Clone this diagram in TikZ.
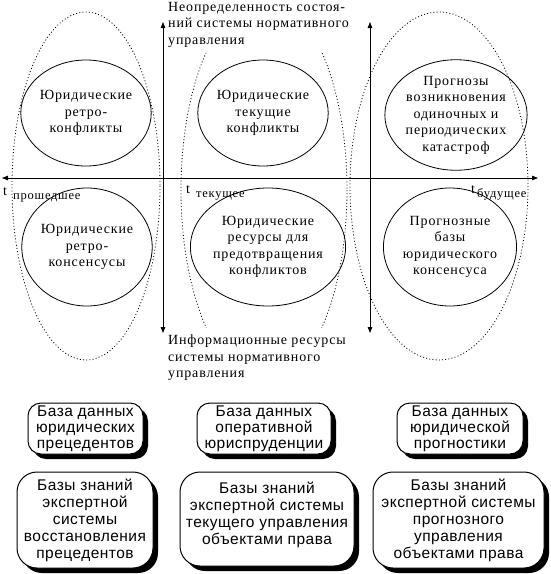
\documentclass[tikz,border=0pt]{standalone}
\usepackage{fontspec}
\setmainfont{Liberation Serif}[LetterSpace=6]
\newfontfamily\boxfont{Liberation Sans}[LetterSpace=3]
\usetikzlibrary{arrows.meta,shapes.geometric}
\tikzset{
  axis/.style={line width=0.8pt,{Triangle[length=6pt,width=4.5pt]}-{Triangle[length=6pt,width=4.5pt]}},
  zone/.style={line width=0.8pt,dash pattern=on 1pt off 2.2pt},
  circ/.style={ellipse,draw,line width=0.8pt,inner sep=0pt,align=center,font=\fontsize{14}{16.5}\selectfont},
  lbl/.style={inner sep=0pt,align=left,font=\fontsize{14}{16.5}\selectfont},
  tlab/.style={inner sep=0pt,font=\fontsize{14}{16}\selectfont},
  tword/.style={inner sep=0pt,font=\fontsize{12.5}{14}\selectfont},
  dbox/.style={draw,line width=1pt,fill=white,align=center,inner sep=0pt,
    font=\boxfont\fontsize{15.5}{16.2}\selectfont},
  bigbox/.style={dbox,rounded corners=20pt,font=\boxfont\fontsize{15.5}{17}\selectfont},
  smallbox/.style={dbox,rounded corners=13pt},
  shadowfill/.style={fill=black},
}
\begin{document}
\begin{tikzpicture}[x=1pt,y=-1pt]
\useasboundingbox (0,0) rectangle (551,574);
% zones
\draw[zone] (86,186) ellipse [x radius=74, y radius=174];
\draw[zone] (439,186) ellipse [x radius=89, y radius=174];
\begin{scope}
\clip (150,53) rectangle (380,327);
\draw[zone] (264,190) ellipse [x radius=83, y radius=192];
\end{scope}
% axes
\coordinate (hl) at (2,178);
\coordinate (hr) at (538,178);
\coordinate (v1t) at (163,22);
\coordinate (v1b) at (163,333);
\coordinate (v2t) at (370,22);
\coordinate (v2b) at (370,333);
\draw[axis] (hl) -- (hr);
\draw[axis] (v1t) -- (v1b);
\draw[axis] (v2t) -- (v2b);
% circles
\node[circ,minimum width=114,minimum height=106] (c1) at (86,113) {Юридические\\ретро-\\конфликты};
\node[circ,minimum width=106,minimum height=106] (c2) at (263,113) {Юридические\\текущие\\конфликты};
\node[circ,minimum width=124,minimum height=106] (c3) at (456,115) {Прогнозы\\возникновения\\одиночных и\\периодических\\катастроф};
\node[circ,minimum width=118,minimum height=118] (c4) at (87,247) {Юридические\\ретро-\\консенсусы};
\node[circ,minimum width=132,minimum height=118] (c5) at (268,247) {Юридические\\ресурсы для\\предотвращения\\конфликтов};
\node[circ,minimum width=124,minimum height=118] (c6) at (450,247) {Прогнозные\\базы\\юридического\\консенсуса};
% axis labels
\node[lbl,anchor=north west] (top) at (168,2) {Неопределенность состоя-\\ний системы нормативного\\управления};
\node[lbl,anchor=north west] (bot) at (168,335) {Информационные ресурсы\\системы нормативного\\управления};
\node[tlab,anchor=base west] (t1) at (3,195) {t};
\node[tword,anchor=base west] (w1) at (13,199) {прошедшее};
\node[tlab,anchor=base west] (t2) at (186,193) {t};
\node[tword,anchor=base west] (w2) at (196,197) {текущее};
\node[tlab,anchor=base west] (t3) at (471,193) {t};
\node[tword,anchor=base west] (w3) at (477,197) {будущее};
% box shadows
\fill[shadowfill,rounded corners=13pt] (33,408) rectangle (148,459);
\fill[shadowfill,rounded corners=13pt] (202,408) rectangle (336,459);
\fill[shadowfill,rounded corners=13pt] (402,408) rectangle (528,459);
\fill[shadowfill,rounded corners=20pt] (22,477) rectangle (158,573);
\fill[shadowfill,rounded corners=20pt] (185,477) rectangle (359,571);
\fill[shadowfill,rounded corners=20pt] (378,477) rectangle (549,573);
% boxes
\node[smallbox,minimum width=115,minimum height=51] (b1) at (85.5,428.5) {База данных\\юридических\\прецедентов};
\node[smallbox,minimum width=134,minimum height=51] (b2) at (264,428.5) {База данных\\оперативной\\юриспруденции};
\node[smallbox,minimum width=126,minimum height=51] (b3) at (460,428.5) {База данных\\юридической\\прогностики};
\node[bigbox,minimum width=136,minimum height=96] (b4) at (85,520) {Базы знаний\\экспертной\\системы\\восстановления\\прецедентов};
\node[bigbox,minimum width=174,minimum height=94,text depth=12pt] (b5) at (267,519) {Базы знаний\\экспертной системы\\текущего управления\\объектами права};
\node[bigbox,minimum width=171,minimum height=96] (b6) at (458.5,520) {Базы знаний\\экспертной системы\\прогнозного\\управления\\объектами права};
\end{tikzpicture}
\end{document}
